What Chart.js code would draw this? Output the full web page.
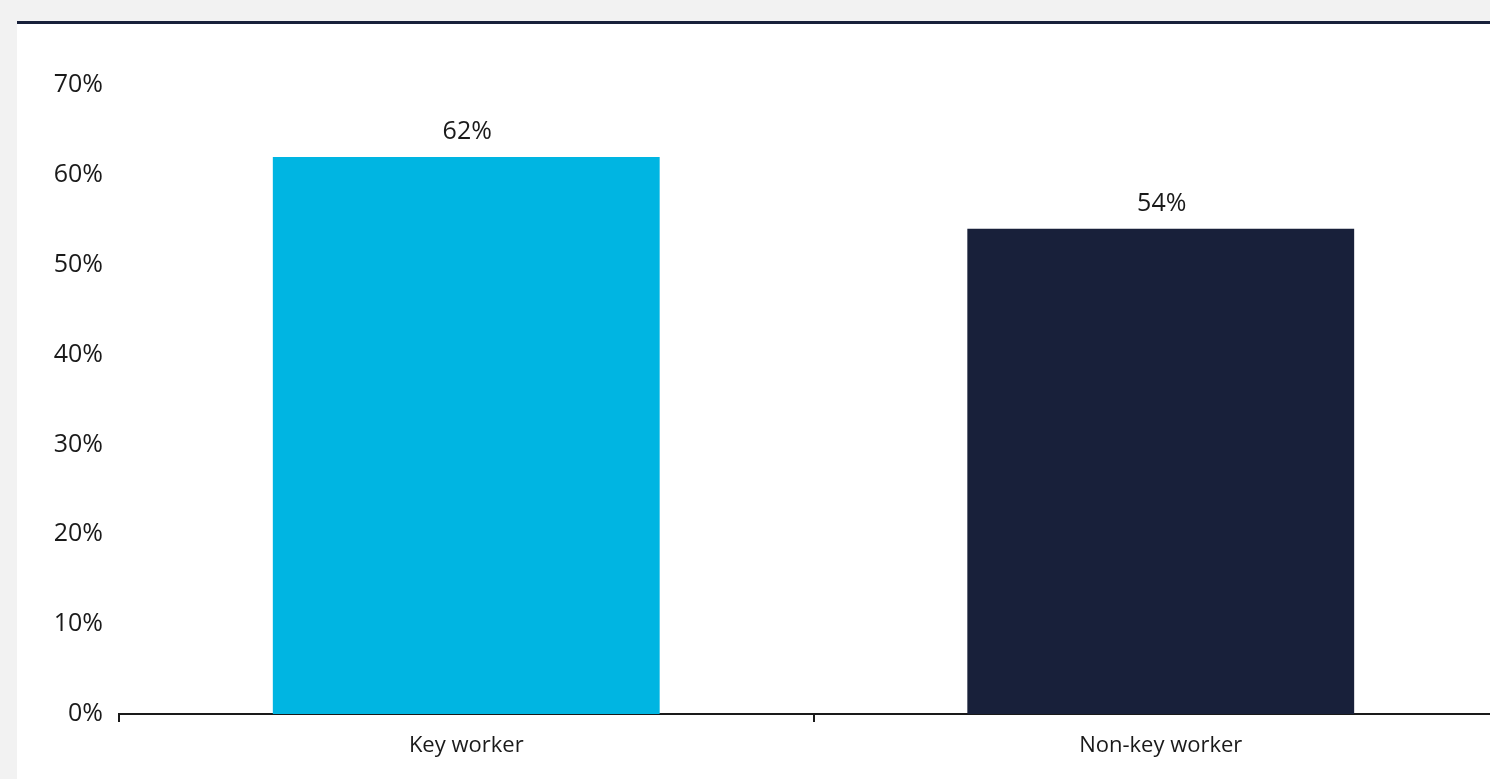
<!DOCTYPE html>
<html>
<head>
<meta charset="utf-8">
<script src="https://cdn.jsdelivr.net/npm/chart.js@4"></script>
<style>
  html, body { margin: 0; padding: 0; background: #f2f2f2; overflow: hidden; width: 1490px; height: 779px; }
  #panel { position: absolute; left: 17px; top: 21px; width: 1500px; height: 758px; background: #ffffff; border-top: 3px solid #18203a; box-sizing: border-box; }
  #wrap { position: absolute; left: 0; top: 0; width: 1500px; height: 755px; }
</style>
</head>
<body>
<div id="panel"><div id="wrap"><canvas id="c"></canvas></div></div>
<script>
const categories = ["Key worker", "Non-key worker"];
const values = [62, 54];
const barColors = ["#00b5e2", "#18203a"];
const yTicks = [0, 10, 20, 30, 40, 50, 60, 70];

const FONT = "'Open Sans', 'Noto Sans', sans-serif";

const valueLabels = {
  id: 'valueLabels',
  afterDatasetsDraw(chart) {
    const ctx = chart.ctx;
    const meta = chart.getDatasetMeta(0);
    ctx.save();
    ctx.font = "25px " + FONT;
    ctx.fillStyle = "#1a1a1a";
    ctx.textAlign = "center";
    ctx.textBaseline = "alphabetic";
    meta.data.forEach((bar, i) => {
      ctx.fillText(values[i] + "%", bar.x + 1, bar.y - 18);
    });
    ctx.restore();
  }
};

new Chart(document.getElementById('c'), {
  type: 'bar',
  data: {
    labels: categories,
    datasets: [{
      data: values,
      backgroundColor: barColors,
      borderWidth: 0,
      barPercentage: 0.557,
      categoryPercentage: 1.0
    }]
  },
  options: {
    responsive: true,
    maintainAspectRatio: false,
    animation: false,
    layout: { padding: { top: 61, right: 9, left: 0, bottom: 0 } },
    plugins: { legend: { display: false }, tooltip: { enabled: false } },
    scales: {
      y: {
        min: 0,
        max: 70,
        afterBuildTicks(scale) { scale.ticks = yTicks.map(v => ({ value: v })); },
        afterFit(scale) { scale.width = 102; },
        border: { display: false },
        grid: { display: false, drawTicks: false },
        ticks: {
          padding: 16,
          color: "#1a1a1a",
          font: { family: FONT, size: 25 },
          callback: (v) => v + "%"
        }
      },
      x: {
        afterFit(scale) { scale.height = 65; },
        border: { display: true, color: "#1a1a1a", width: 2 },
        grid: { display: true, drawOnChartArea: false, drawTicks: true, tickLength: 8, color: "#1a1a1a", lineWidth: 2, offset: true },
        ticks: {
          padding: 11,
          color: "#1a1a1a",
          font: { family: FONT, size: 22 }
        }
      }
    }
  },
  plugins: [valueLabels]
});
</script>
</body>
</html>
